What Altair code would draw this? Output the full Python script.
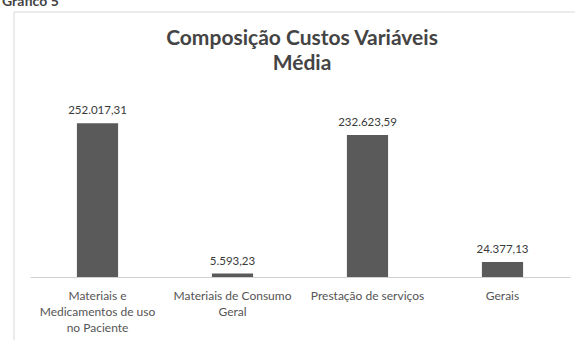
import altair as alt
import pandas as pd

categories = [
    "Materiais e\nMedicamentos de uso\nno Paciente",
    "Materiais de Consumo\nGeral",
    "Prestação de serviços",
    "Gerais",
]
values = [252017.31, 5593.23, 232623.59, 24377.13]
title_lines = ["Composição Custos Variáveis", "Média"]


def br(v):
    s = f"{v:,.2f}"
    return s.replace(",", "X").replace(".", ",").replace("X", ".")


df = pd.DataFrame({"cat": categories, "val": values, "lab": [br(v) for v in values]})

FONT = "Lato"

x = alt.X("cat:N", sort=categories, title=None,
          scale=alt.Scale(paddingInner=0.695, paddingOuter=0.3475),
          axis=alt.Axis(labelAngle=0, ticks=False, domainColor="#d0d0d0",
                        labelExpr="split(datum.label, '\\n')",
                        labelFont=FONT, labelFontSize=12, labelColor="#555555",
                        labelPadding=13, labelLineHeight=16, labelLimit=200))
y = alt.Y("val:Q", scale=alt.Scale(domain=[0, 290000]), axis=None)

base = alt.Chart(df)
bars = base.mark_bar(color="#5a5a5a").encode(x=x, y=y)
text = base.mark_text(baseline="bottom", dy=-7, font=FONT, fontSize=11.5,
                      color="#3a3a3a").encode(x=x, y=y, text="lab:N")

one = pd.DataFrame({"a": [0]})
frame_left = alt.Chart(one).mark_rule(color="#d8d8d8").encode(
    x=alt.value(-16), y=alt.value(-88), y2=alt.value(240))
frame_top = alt.Chart(one).mark_rule(color="#d8d8d8").encode(
    x=alt.value(-16), x2=alt.value(545), y=alt.value(-88))
header = alt.Chart(pd.DataFrame({"t": ["Gráfico 5"]})).mark_text(
    align="left", baseline="alphabetic", font=FONT, fontSize=14, fontWeight="bold",
    color="#444444").encode(x=alt.value(-28), y=alt.value(-94), text="t:N")
t1 = alt.Chart(pd.DataFrame({"t": [title_lines[0]]})).mark_text(
    align="center", baseline="middle", font=FONT, fontSize=21, fontWeight="bold",
    color="#444444").encode(x=alt.value(272), y=alt.value(-61), text="t:N")
t2 = alt.Chart(pd.DataFrame({"t": [title_lines[1]]})).mark_text(
    align="center", baseline="middle", font=FONT, fontSize=21, fontWeight="bold",
    color="#444444").encode(x=alt.value(272), y=alt.value(-36), text="t:N")

chart = (frame_left + frame_top + header + t1 + t2 + bars + text).properties(
    width=540, height=177,
    padding={"left": 30, "top": 100, "right": 5, "bottom": 63},
    autosize=alt.AutoSizeParams(type="none"),
    background="white",
).configure_view(stroke=None)

chart.save("out.html", embed_options={"renderer": "svg", "actions": False})
